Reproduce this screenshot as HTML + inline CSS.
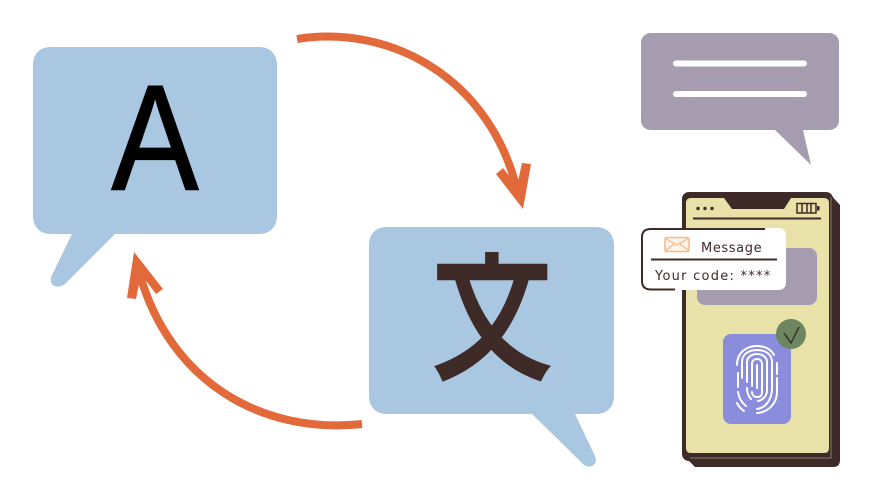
<!DOCTYPE html>
<html><head><meta charset="utf-8"><style>html,body{margin:0;padding:0;background:#fff}svg{display:block}
.a{font-family:"Liberation Sans",Arial,sans-serif;font-size:150px;font-weight:400}
.w{font-family:"WenQuanYi Zen Hei","Noto Sans CJK JP",sans-serif;font-size:133px;font-weight:400}
.m{font-family:"DejaVu Sans",sans-serif;font-size:13px}
</style></head><body>
<svg xmlns="http://www.w3.org/2000/svg" width="870" height="500" viewBox="0 0 870 500">
<defs><clipPath id="c"><rect x="420" y="252" width="150" height="140"/></clipPath></defs>
<rect width="870" height="500" fill="#fff"/>
<!-- bubble 1 -->
<path d="M51 234H51C40 234 33 227 33 216V65C33 54 40 47 51 47H259C270 47 277 54 277 65V216C277 227 270 234 259 234H115L66 283C60 289 49 288 51 277L72 234Z" fill="#a9c7e0"/>
<text class="a" transform="translate(155 189.500) scale(.87 1)" text-anchor="middle" fill="#000" stroke="#000" stroke-width="1.500">A</text>
<!-- bubble 2 -->
<path d="M387 227H596C607 227 614 234 614 245V396C614 407 607 414 596 414H575L595 456C599 466 588 470 582 463L532 414H387C376 414 369 407 369 396V245C369 234 376 227 387 227Z" fill="#a9c7e0"/>
<g clip-path="url(#c)"><text class="w" transform="translate(492 382) scale(.88 1.12) translate(-492 -382)" x="492" y="368" text-anchor="middle" fill="#3e2a26" stroke="#3e2a26" stroke-width="5">文</text></g>
<!-- arrows -->
<path d="M297 39C390 24 490 78 517 190" fill="none" stroke="#e2693a" stroke-width="8"/>
<polygon points="523,209 496,174 503,168 517,186 522,163 531,164" fill="#e2693a"/>
<path d="M362 424C260 435 170 380 140 275" fill="none" stroke="#e2693a" stroke-width="8"/>
<polygon points="134,252 163,289 156,294 141,274 136,299 127,298" fill="#e2693a"/>
<!-- gray bubble -->
<path d="M651 33H829C835 33 839 37 839 43V120C839 126 835 130 829 130H803L811 165L775 130H651C645 130 641 126 641 120V43C641 37 645 33 651 33Z" fill="#a59cb0"/>
<path d="M676 63.500H804M676 94H804" stroke="#fff" stroke-width="6" stroke-linecap="round"/>
<!-- phone -->
<path d="M830 194L840 205V460Q840 467 833 467H695L686 458Z" fill="#3e2a26"/>
<rect x="682" y="192" width="151" height="269" rx="7" fill="#3e2a26"/>
<path d="M831 197V458H690" fill="none" stroke="#8a7a72" stroke-width="1"/>
<path d="M691 198H724L732 209H784L791 198H824Q829 198 829 203V448Q829 453 824 453H691Q686 453 686 448V203Q686 198 691 198Z" fill="#e8e2a8"/>
<circle cx="698" cy="208.500" r="1.700" fill="#3e2a26"/><circle cx="705" cy="208.500" r="1.700" fill="#3e2a26"/><circle cx="712" cy="208.500" r="1.700" fill="#3e2a26"/>
<path d="M693 218.500H821" stroke="#3e2a26" stroke-width="2"/>
<rect x="797" y="203.500" width="19" height="9.500" fill="none" stroke="#3e2a26" stroke-width="1.500"/>
<rect x="817" y="206" width="2.500" height="4.500" fill="#3e2a26"/>
<path d="M802 204V213M807 204V213M811 204V213" stroke="#3e2a26" stroke-width="1.500"/>
<rect x="697" y="248" width="120" height="57" rx="8" fill="#a59cb0"/>
<!-- message card -->
<path d="M650 228H778Q786 228 786 236V282Q786 290 778 290H650Q641 290 641 282V237Q641 228 650 228Z" fill="#fff"/>
<path d="M765 229H651Q642 229 642 237V281Q642 289.500 651 289.500H675" fill="none" stroke="#3e2a26" stroke-width="2"/>
<rect x="665" y="237.500" width="24" height="14" rx="1.500" fill="#fdf3e8" stroke="#f5b98a" stroke-width="1.500"/>
<path d="M665 238L677 245L689 238M665 251L674 244M689 251L680 244" fill="none" stroke="#f5b98a" stroke-width="1.200"/>
<text class="m" x="701" y="252" letter-spacing=".6" fill="#3e2a26">Message</text>
<path d="M651 259.500H777" stroke="#3e2a26" stroke-width="2"/>
<text class="m" x="655" y="280" letter-spacing="1.250" fill="#3e2a26">Your code: ****</text>
<!-- fingerprint -->
<rect x="723" y="334" width="68" height="90" rx="8" fill="#8a8cdc"/>
<g fill="none" stroke="#fff" stroke-width="2" stroke-linecap="round">
<path d="M737 365C737 352 747 346 757 346C764 346 771 349 774 355M777 363V374M738 373V387"/>
<path d="M742 378V362C742 354 749 350 757 350C765 350 772 354 772 362V388C772 399 766 408 757 409M746 406C742 403 739 398 738 392"/>
<path d="M747 382V362C747 357 752 354 757 354C762 354 767 357 767 362V390C767 396 763 400 758 401M751 399C748 396 747 393 747 388"/>
<path d="M752 386V364C752 361 754 359 757 359C760 359 762 361 762 364V392C762 396 760 397 757 397C754 397 752 395 752 392"/>
<path d="M757 365V388"/>
<path d="M777 378V392C777 403 769 412 757 413M744 411C741 409 739 407 737 403"/>
</g>
<circle cx="791" cy="334" r="15" fill="#6d8560"/>
<path d="M784 333L791 343L799 327" fill="none" stroke="#2c2a22" stroke-width="1.300"/>
</svg>
</body></html>
